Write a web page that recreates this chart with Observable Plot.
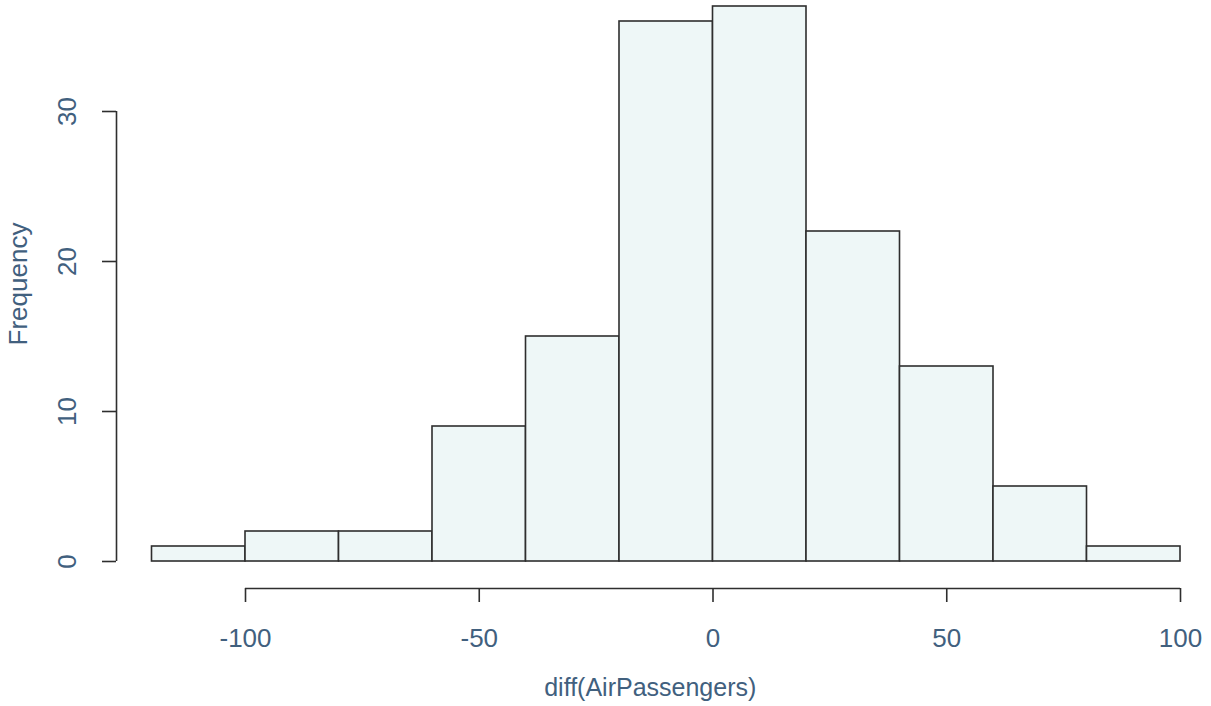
<!DOCTYPE html>
<html>
<head>
<meta charset="utf-8">
<script src="https://cdn.jsdelivr.net/npm/d3@7"></script>
<script src="https://cdn.jsdelivr.net/npm/@observablehq/plot@0.6"></script>
<style>
  html, body { margin: 0; padding: 0; background: #ffffff; }
  #chart svg { display: block; }
</style>
</head>
<body>
<div id="chart"></div>
<script>
// Histogram of diff(AirPassengers): bins of width 20
const binStarts = [-120, -100, -80, -60, -40, -20, 0, 20, 40, 60, 80];
const binEnds   = [-100,  -80, -60, -40, -20,   0, 20, 40, 60, 80, 100];
const counts    = [1, 2, 2, 9, 15, 36, 37, 22, 13, 5, 1];
const xTicks = [-100, -50, 0, 50, 100];
const yTicks = [0, 10, 20, 30];
const xLabel = "diff(AirPassengers)";
const yLabel = "Frequency";

const bins = binStarts.map((s, i) => ({x1: s, x2: binEnds[i], count: counts[i]}));

const textColor = "#41607e";
const lineColor = "#2e2e2e";
const font = "Liberation Sans, Arial, sans-serif";

const chart = Plot.plot({
  width: 1211,
  height: 706,
  marginLeft: 151.5,
  marginRight: 31,
  marginTop: 111,
  marginBottom: 145,
  style: {background: "#ffffff", fontFamily: font, overflow: "visible"},
  x: {domain: [binStarts[0], binEnds[binEnds.length - 1]], axis: null},
  y: {domain: [0, 30], axis: null},
  marks: [
    Plot.rectY(bins, {x1: "x1", x2: "x2", y: "count", fill: "#eef7f7", stroke: lineColor, strokeWidth: 1.6, clip: false}),
    // x axis
    Plot.ruleY([0], {x1: xTicks[0], x2: xTicks[xTicks.length - 1], dy: 27, stroke: lineColor, strokeWidth: 1.6}),
    Plot.axisX({ticks: xTicks, tickSize: 14, dy: 27, label: null, tickFormat: () => "", stroke: lineColor, strokeWidth: 1.6}),
    Plot.text(xTicks, {x: d => d, text: d => String(d), frameAnchor: "bottom", lineAnchor: "middle", textAnchor: "middle", dy: 77, fontSize: 26, fill: textColor}),
    Plot.text([xLabel], {frameAnchor: "bottom", lineAnchor: "middle", textAnchor: "middle", dy: 126, dx: -16, fontSize: 25, fill: textColor}),
    // y axis
    Plot.ruleX([binStarts[0]], {y1: yTicks[0], y2: yTicks[yTicks.length - 1], dx: -35.5, stroke: lineColor, strokeWidth: 1.6}),
    Plot.axisY({ticks: yTicks, tickSize: 14, dx: -35.5, label: null, tickFormat: () => "", stroke: lineColor, strokeWidth: 1.6}),
    Plot.text(yTicks, {y: d => d, text: d => String(d), frameAnchor: "left", lineAnchor: "middle", textAnchor: "middle", dx: -84, rotate: -90, fontSize: 26, fill: textColor}),
    Plot.text([yLabel], {y: 18.5, frameAnchor: "left", lineAnchor: "middle", textAnchor: "middle", dx: -133, rotate: -90, fontSize: 26, fill: textColor})
  ]
});
document.getElementById("chart").appendChild(chart);
</script>
</body>
</html>
